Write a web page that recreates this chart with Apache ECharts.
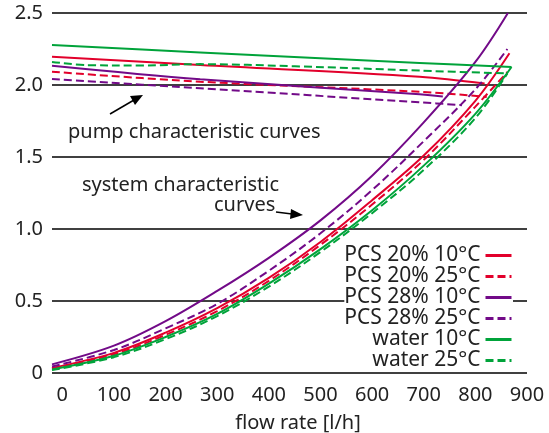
<!DOCTYPE html>
<html lang="en">
<head>
  <meta charset="UTF-8">
  <title>pump and system characteristic curves</title>
</head>
<body style="margin:0; background-color:#fff;">
<div id="main" style="width:549px; height:433px;"></div>

<script src="https://cdn.jsdelivr.net/npm/echarts@6/dist/echarts.min.js"></script>

<script>
  var chartDom = document.getElementById("main");
  var myChart = echarts.init(chartDom);

// legend names, in legend order
var curveNames = ['PCS 20% 10°C', 'PCS 20% 25°C', 'PCS 28% 10°C', 'PCS 28% 25°C', 'water 10°C', 'water 25°C'];

// x tick labels
var xTicks = [0, 100, 200, 300, 400, 500, 600, 700, 800, 900];

// system characteristic curves [flow, head]
var sysPcs20_10 = [[-20,0.035],[100,0.14],[200,0.28],[300,0.45],[400,0.66],[500,0.91],[600,1.20],[700,1.51],[800,1.89],[866,2.22]];
var sysPcs20_25 = [[-20,0.03],[100,0.13],[200,0.265],[300,0.43],[400,0.64],[500,0.89],[600,1.17],[700,1.48],[800,1.85],[862,2.09]];
var sysPcs28_10 = [[-20,0.06],[100,0.19],[200,0.36],[300,0.57],[400,0.80],[500,1.06],[600,1.37],[700,1.74],[800,2.16],[863,2.5]];
var sysPcs28_25 = [[-20,0.045],[100,0.16],[200,0.31],[300,0.48],[400,0.71],[500,0.97],[600,1.27],[700,1.61],[800,1.97],[862,2.25]];
var sysWater10 = [[-20,0.025],[100,0.12],[200,0.25],[300,0.41],[400,0.62],[500,0.86],[600,1.13],[700,1.44],[800,1.80],[870,2.125]];
var sysWater25 = [[-20,0.02],[100,0.11],[200,0.235],[300,0.395],[400,0.60],[500,0.84],[600,1.11],[700,1.41],[800,1.77],[862,2.08]];

// pump characteristic curves [flow, head]
var pumpPcs20_10 = [[-20,2.197],[267,2.139],[692,2.058],[818,2.01]];
var pumpPcs20_25 = [[-20,2.092],[267,2.023],[692,1.953],[822,1.917]];
var pumpPcs28_10 = [[-20,2.134],[267,2.04],[692,1.935],[737,1.92]];
var pumpPcs28_25 = [[-20,2.042],[267,1.977],[692,1.88],[774,1.86]];
var pumpWater10 = [[-20,2.278],[267,2.226],[692,2.153],[870,2.125]];
var pumpWater25 = [[-20,2.16],[50,2.138],[150,2.135],[267,2.145],[450,2.13],[692,2.1],[862,2.08]];

var red = '#e2002b', purple = '#720a88', green = '#00a33a';
var dash = [8, 4];

var curveSets = [
    [curveNames[0], sysPcs20_10, pumpPcs20_10, red, 'solid'],
    [curveNames[1], sysPcs20_25, pumpPcs20_25, red, dash],
    [curveNames[2], sysPcs28_10, pumpPcs28_10, purple, 'solid'],
    [curveNames[3], sysPcs28_25, pumpPcs28_25, purple, dash],
    [curveNames[4], sysWater10, pumpWater10, green, 'solid'],
    [curveNames[5], sysWater25, pumpWater25, green, dash]
];

var series = [];
curveSets.forEach(function (item) {
    [item[1], item[2]].forEach(function (d) {
        series.push({
            name: item[0],
            type: 'line',
            smooth: 0.35,
            symbol: 'none',
            lineStyle: { color: item[3], width: 2, type: item[4] },
            itemStyle: { color: item[3] },
            data: d
        });
    });
});

var font = 'Noto Sans';
var txt = '20px "Noto Sans"';

option = {
    backgroundColor: '#fff',
    animation: false,
    textStyle: { fontFamily: font },
    grid: { left: 52, right: 22, top: 13, bottom: 60, containLabel: false, outerBoundsMode: 'none' },
    legend: {
        data: curveNames,
        orient: 'vertical',
        right: 36,
        top: 245,
        align: 'right',
        itemWidth: 26,
        itemHeight: 14,
        itemGap: 0,
        padding: 0,
        backgroundColor: '#fff',
        itemStyle: { opacity: 0 },
        lineStyle: { width: 3 },
        textStyle: { fontFamily: font, fontSize: 21, color: '#222', lineHeight: 21 }
    },
    xAxis: {
        type: 'value',
        min: -20,
        max: 900,
        name: 'flow rate [l/h]',
        nameLocation: 'middle',
        nameGap: 40,
        nameTextStyle: { fontFamily: font, fontSize: 20, color: '#222', padding: [0, 0, 0, 17] },
        axisLine: { show: false },
        axisTick: { show: false },
        splitLine: { show: false },
        axisLabel: { customValues: xTicks, fontFamily: font, fontSize: 20, color: '#222', margin: 12 }
    },
    yAxis: {
        type: 'value',
        min: 0,
        max: 2.5,
        interval: 0.5,
        axisLine: { show: false },
        axisTick: { show: false },
        splitLine: { lineStyle: { color: '#000', width: 1.5 } },
        axisLabel: {
            fontFamily: font, fontSize: 20, color: '#222', margin: 9,
            formatter: function (v) { return v === 0 ? '0' : v.toFixed(1); }
        }
    },
    graphic: [
        { type: 'text', left: 68, top: 122, style: { text: 'pump characteristic curves', font: txt, fill: '#222' } },
        { type: 'text', left: 82, top: 175, style: { text: 'system characteristic', font: txt, fill: '#222' } },
        { type: 'text', left: 214, top: 195, style: { text: 'curves', font: txt, fill: '#222' } },
        { type: 'line', shape: { x1: 110, y1: 114, x2: 134, y2: 100 }, style: { stroke: '#000', lineWidth: 1.5 } },
        { type: 'polygon', shape: { points: [[143, 95], [130, 96], [135, 105]] }, style: { fill: '#000' } },
        { type: 'line', shape: { x1: 276, y1: 212, x2: 292, y2: 214 }, style: { stroke: '#000', lineWidth: 1.5 } },
        { type: 'polygon', shape: { points: [[303, 215], [291, 209], [290, 219]] }, style: { fill: '#000' } }
    ],
    series: series
};

myChart.setOption(option);
</script>
</body>
</html>
